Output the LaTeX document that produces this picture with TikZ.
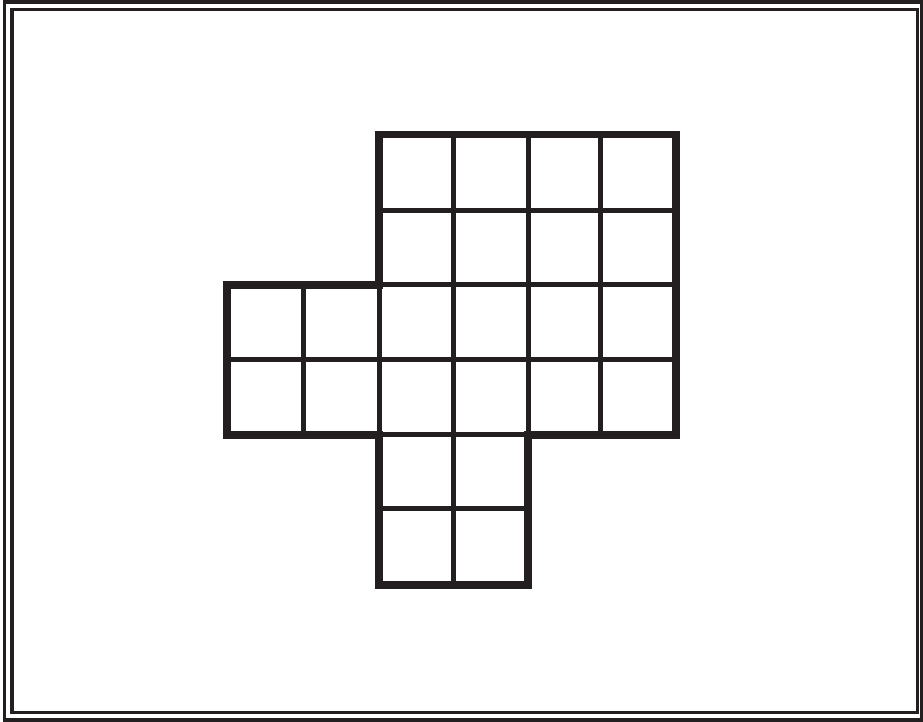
\documentclass[tikz,border=0pt]{standalone}
\definecolor{ink}{HTML}{231F20}
\begin{document}
\begin{tikzpicture}[x=0.5pt,y=-0.5pt,
  framestyle/.style={draw=ink,line width=1.6pt},
  gridline/.style={draw=ink,line width=2.5pt},
  outline/.style={draw=ink,line width=3.7pt,line join=miter}]
\useasboundingbox (0,0) rectangle (923,722);
% double frame
\draw[framestyle] (4.5,2) rectangle (921.5,720);
\draw[framestyle] (12,9.5) rectangle (917.5,712.5);
% interior grid lines
\draw[gridline] (379,211) -- (676,211);
\draw[gridline] (379,285) -- (676,285);
\draw[gridline] (227,359.5) -- (676,359.5);
\draw[gridline] (379,435) -- (528,435);
\draw[gridline] (379,509) -- (528,509);
\draw[gridline] (303,285) -- (303,435);
\draw[gridline] (379,285) -- (379,435);
\draw[gridline] (453.5,134.5) -- (453.5,585);
\draw[gridline] (528,134.5) -- (528,435);
\draw[gridline] (600.5,134.5) -- (600.5,435);
% outline
\draw[outline] (379,134.5) -- (676,134.5) -- (676,435) -- (528,435) -- (528,585)
  -- (379,585) -- (379,435) -- (227,435) -- (227,285) -- (379,285) -- cycle;
\end{tikzpicture}
\end{document}
